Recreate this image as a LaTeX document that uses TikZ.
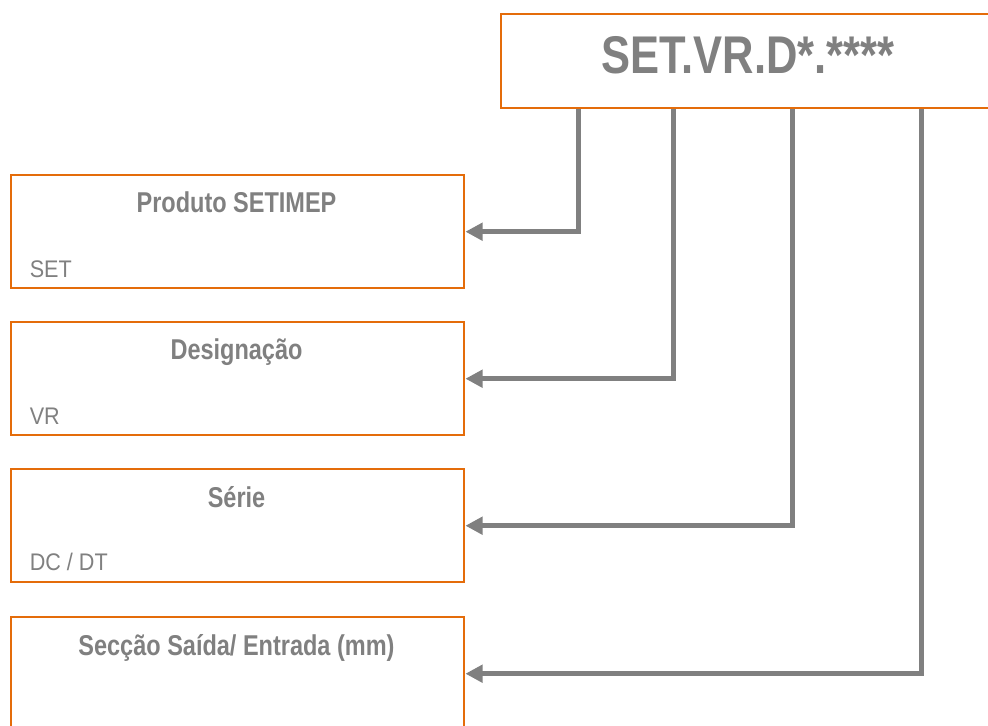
\documentclass[tikz,border=0pt]{standalone}
\usepackage{fontspec}
\usetikzlibrary{arrows.meta}
\newfontfamily\narrowsf{Liberation Sans}[FakeStretch=0.82]
\newfontfamily\valuesf{Liberation Sans}[FakeStretch=0.9]
\definecolor{setorange}{RGB}{228,108,10}
\definecolor{setgray}{RGB}{128,128,128}
\tikzset{
  field/.style={draw=setorange, line width=1.8pt, minimum width=339.75pt, minimum height=84.75pt, anchor=north west, inner sep=0pt},
  fieldtitle/.style={anchor=base, inner sep=0pt, text=setgray, font=\narrowsf\bfseries\fontsize{21.5}{24}\selectfont},
  fieldvalue/.style={anchor=base west, inner sep=0pt, text=setgray, font=\valuesf\fontsize{18}{21}\selectfont},
  link/.style={draw=setgray, line width=3.75pt, -{Triangle[length=13pt,width=13pt]}}
}
\begin{document}
\begin{tikzpicture}[x=0.75pt, y=-0.75pt]
			\useasboundingbox (0,0) rectangle (988,725);
			\clip (0,0) rectangle (988,725);
			\node[draw=setorange, line width=1.8pt, minimum width=375pt, minimum height=70.5pt, anchor=north west] (code) at (500,13) {};
			\node[anchor=base, inner sep=0pt, text=setgray, font=\narrowsf\bfseries\fontsize{39.8}{44}\selectfont] (codetext) at (748,73) {SET.VR.D*.****};
			\node[field] (prod) at (10,174) {};
			\node[field] (desig) at (10,321) {};
			\node[field] (serie) at (10,468) {};
			\node[field] (seccao) at (10,616) {};
			\node[fieldtitle] (prodtitle) at (236.5,212) {Produto SETIMEP};
			\node[fieldvalue] (prodvalue) at (29.5,277) {SET};
			\node[fieldtitle] (desigtitle) at (236.5,359) {Designação};
			\node[fieldvalue] (desigvalue) at (29.5,424) {VR};
			\node[fieldtitle] (serietitle) at (236.5,507) {Série};
			\node[fieldvalue] (serievalue) at (29.5,570) {DC / DT};
			\node[fieldtitle] (seccaotitle) at (236.5,655) {Secção Saída/ Entrada (mm)};
			\coordinate (drop1) at (578,0);
			\coordinate (drop2) at (673,0);
			\coordinate (drop3) at (792,0);
			\coordinate (drop4) at (921,0);
			\draw[link] (code.south -| drop1) |- (prod.east);
			\draw[link] (code.south -| drop2) |- (desig.east);
			\draw[link] (code.south -| drop3) |- (serie.east);
			\draw[link] (code.south -| drop4) |- (seccao.east);
\end{tikzpicture}
\end{document}
